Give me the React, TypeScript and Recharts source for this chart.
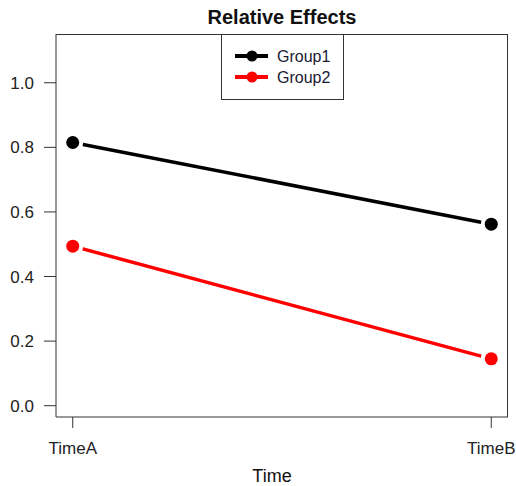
import React from 'react';
import { LineChart, Line, XAxis, YAxis } from 'recharts';

const categories = ['TimeA', 'TimeB'];
const group1 = [0.815, 0.562];
const group2 = [0.494, 0.145];
const yTicks = [0, 0.2, 0.4, 0.6, 0.8, 1.0];
const xDomain = [0.96, 2.04];
const yDomain = [-0.035, 1.151];
const seriesNames = ['Group1', 'Group2'];
const seriesColors = ['#000000', '#ff0000'];

const data = categories.map((c, i) => ({ x: i + 1, name: c, g1: group1[i], g2: group2[i] }));

const FONT = '"Liberation Sans", Arial, Helvetica, sans-serif';

const makeDot = (color: string) => (props: any) => {
  const { cx, cy, index } = props;
  if (cx == null || cy == null) return <g key={index} />;
  return (
    <g key={index}>
      <circle cx={cx} cy={cy} r={10.5} fill="#ffffff" />
      <circle cx={cx} cy={cy} r={6.5} fill={color} />
    </g>
  );
};

const LegendBox = () => (
  <div
    style={{
      position: 'absolute',
      left: 221,
      top: 34,
      width: 123,
      height: 66,
      border: '1px solid #333',
      boxSizing: 'border-box',
      background: '#fff',
      zIndex: 3,
    }}
  >
    <svg width={121} height={64} style={{ display: 'block' }}>
      {seriesNames.map((n, i) => {
        const y = 21 + i * 21;
        return (
          <g key={n}>
            <line x1={13} x2={46} y1={y} y2={y} stroke={seriesColors[i]} strokeWidth={4} />
            <circle cx={30} cy={y} r={5.5} fill={seriesColors[i]} />
            <text x={55} y={y + 6} fontSize={16} fontFamily={FONT} fill="#1a1a33">
              {n}
            </text>
          </g>
        );
      })}
    </svg>
  </div>
);

export default function App() {
  return (
    <div style={{ position: 'absolute', left: 0, top: 0, width: 516, height: 486, background: '#fff' }}>
      <div
        style={{
          position: 'absolute',
          left: 0,
          width: 564,
          top: 7,
          textAlign: 'center',
          fontFamily: FONT,
          fontWeight: 'bold',
          fontSize: 20,
          lineHeight: '20px',
          color: '#111',
        }}
      >
        Relative Effects
      </div>
      <div style={{ position: 'absolute', left: 0, top: 0, zIndex: 1 }}>
        <LineChart width={516} height={486} data={data} margin={{ top: 34, right: 8, bottom: 0, left: 0 }}>
          <XAxis
            type="number"
            dataKey="x"
            domain={xDomain}
            ticks={[1, 2]}
            allowDataOverflow
            tickFormatter={(v: number) => categories[v - 1]}
            height={69}
            tickSize={11}
            tickMargin={14}
            stroke="#333"
            tick={{ fill: '#222', fontSize: 17, fontFamily: FONT }}
            label={{ value: 'Time', position: 'insideBottom', offset: 4, dx: -10, fontSize: 18, fontFamily: FONT, fill: '#111' }}
          />
          <YAxis
            type="number"
            domain={yDomain}
            ticks={yTicks}
            allowDataOverflow
            tickFormatter={(v: number) => v.toFixed(1)}
            width={56}
            tickSize={12}
            tickMargin={10}
            stroke="#333"
            tick={{ fill: '#222', fontSize: 17, fontFamily: FONT }}
          />
          <Line
            dataKey="g1"
            name={seriesNames[0]}
            stroke={seriesColors[0]}
            strokeWidth={3.5}
            dot={makeDot(seriesColors[0])}
            activeDot={false}
            isAnimationActive={false}
          />
          <Line
            dataKey="g2"
            name={seriesNames[1]}
            stroke={seriesColors[1]}
            strokeWidth={3.5}
            dot={makeDot(seriesColors[1])}
            activeDot={false}
            isAnimationActive={false}
          />
        </LineChart>
      </div>
      <div
        style={{
          position: 'absolute',
          left: 56,
          top: 34,
          width: 452,
          height: 383,
          borderTop: '1px solid #333',
          borderRight: '1px solid #333',
          boxSizing: 'border-box',
          pointerEvents: 'none',
          zIndex: 2,
        }}
      />
      <LegendBox />
    </div>
  );
}
